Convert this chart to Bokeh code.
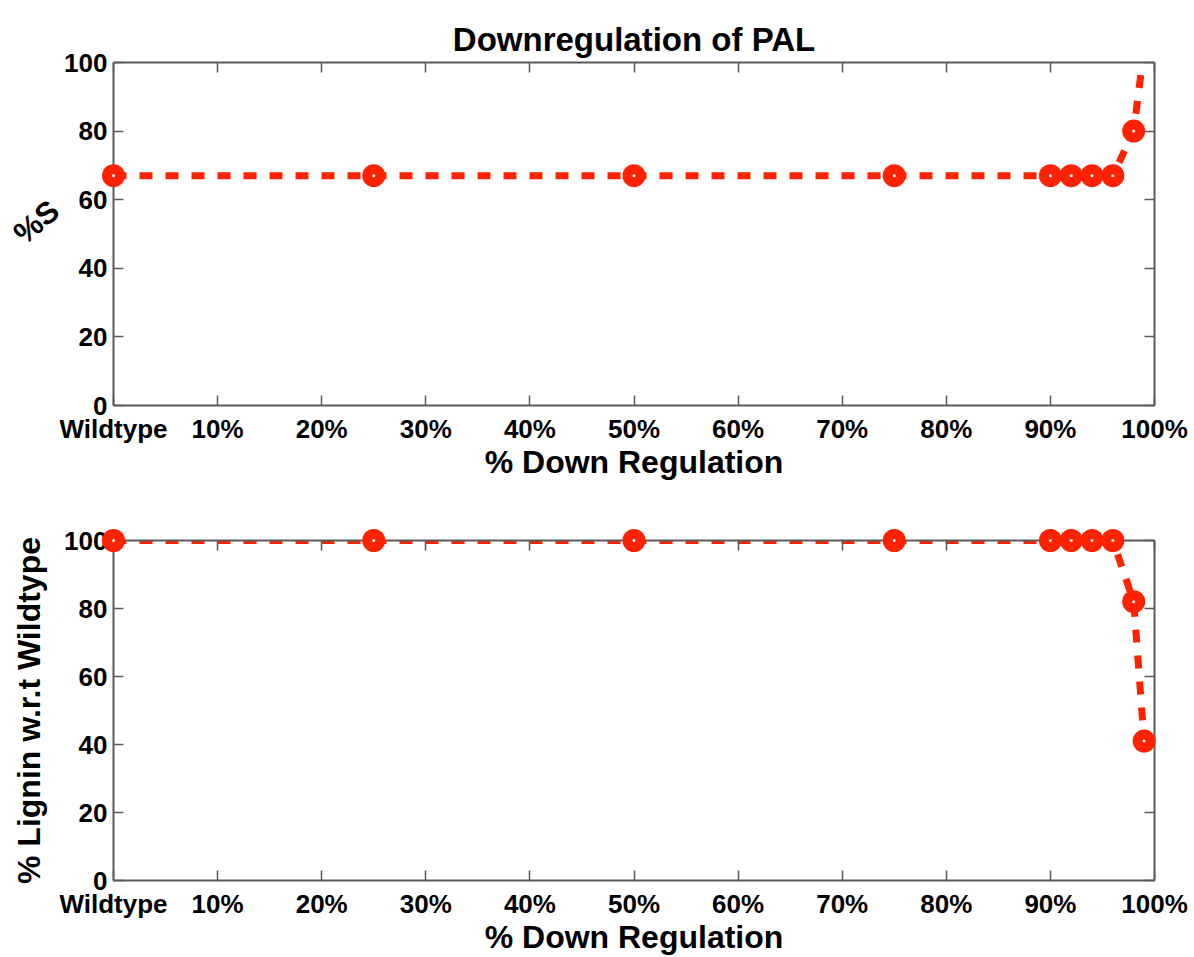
import math

from bokeh.plotting import figure
from bokeh.models import (Range1d, FixedTicker, LinearAxis, ColumnDataSource,
                          CDSView, BooleanFilter)
from bokeh.core.properties import value
from bokeh.layouts import column
from bokeh.embed import file_html
from bokeh.resources import INLINE

# Data
down_regulation = [0, 25, 50, 75, 90, 92, 94, 96, 98, 99]
percent_s = [67, 67, 67, 67, 67, 67, 67, 67, 80, 104]
lignin_rel_wildtype = [100, 100, 100, 100, 100, 100, 100, 100, 82, 41]

x_ticks = [0, 10, 20, 30, 40, 50, 60, 70, 80, 90, 100]
x_tick_labels = ["Wildtype", "10%", "20%", "30%", "40%", "50%",
                 "60%", "70%", "80%", "90%", "100%"]
y_ticks = [0, 20, 40, 60, 80, 100]

FONT = "Liberation Sans"
RED = "#ff2200"
AXIS_GREY = "#5a5a5a"
W = 1194


def style_axis(ax, show_labels):
    ax.axis_line_color = AXIS_GREY
    ax.axis_line_width = 2
    ax.major_tick_line_color = AXIS_GREY
    ax.major_tick_line_width = 1.5
    ax.major_tick_in = 10
    ax.major_tick_out = 0
    ax.minor_tick_line_color = None
    ax.major_label_text_font = FONT
    ax.major_label_text_font_style = "bold"
    ax.major_label_text_color = "black"
    ax.major_label_text_font_size = "26px" if show_labels else "0px"
    ax.axis_label_text_font = FONT
    ax.axis_label_text_font_style = "bold"
    ax.axis_label_text_font_size = "32px"
    ax.axis_label_text_color = "black"


def make_panel(yvals, height, border_top, border_bottom):
    p = figure(width=W, height=height, output_backend="svg", toolbar_location=None,
               x_range=Range1d(0, 100), y_range=Range1d(0, 100),
               x_axis_type=None, y_axis_type=None,
               min_border_left=113, min_border_right=40,
               min_border_top=border_top, min_border_bottom=border_bottom)
    p.outline_line_color = None
    p.grid.visible = False
    p.background_fill_color = "white"
    p.border_fill_color = "white"

    # box axes on all four sides, ticks pointing inward
    for side in ("below", "above"):
        ax = LinearAxis(ticker=FixedTicker(ticks=x_ticks))
        style_axis(ax, side == "below")
        ax.major_label_overrides = {t: s for t, s in zip(x_ticks, x_tick_labels)}
        ax.major_label_standoff = 8
        p.add_layout(ax, side)
    for side in ("left", "right"):
        ax = LinearAxis(ticker=FixedTicker(ticks=y_ticks))
        style_axis(ax, side == "left")
        ax.major_label_standoff = 6
        p.add_layout(ax, side)

    src = ColumnDataSource(dict(x=down_regulation, y=yvals))
    p.line("x", "y", source=src, line_color=RED, line_width=7, line_dash="13 13")
    # markers are drawn whole (not cut at the box) when their centre is inside
    inside = BooleanFilter([0 <= v <= 100 for v in yvals])
    view = CDSView(filter=inside)
    p.scatter("x", "y", source=src, view=view, size=23, fill_color=RED,
              line_color=None, level="overlay")
    p.scatter("x", "y", source=src, view=view, size=3, fill_color="white",
              line_color=None, level="overlay")
    return p


top = make_panel(percent_s, 482, 62, 77)
top.title.text = "Downregulation of PAL"
top.title.align = "center"
top.title.text_font = FONT
top.title.text_font_style = "bold"
top.title.text_font_size = "33px"
top.title.text_color = "black"
top.below[0].axis_label = "% Down Regulation"
top.below[0].axis_label_standoff = -3
# tilted y label of the upper panel
top.text(x=[-7.4], y=[53.5], text=["%S"], angle=math.radians(40),
         text_align="center", text_baseline="middle",
         text_font=value(FONT), text_font_style="bold",
         text_font_size="31px", text_color="black", level="overlay")

bottom = make_panel(lignin_rel_wildtype, 475, 58, 75)
bottom.below[0].axis_label = "% Down Regulation"
bottom.below[0].axis_label_standoff = -3
bottom.left[0].axis_label = "% Lignin w.r.t Wildtype"
bottom.left[0].axis_label_standoff = 14

layout = column(top, bottom, spacing=0)
open("out.html", "w").write(file_html(layout, INLINE))
